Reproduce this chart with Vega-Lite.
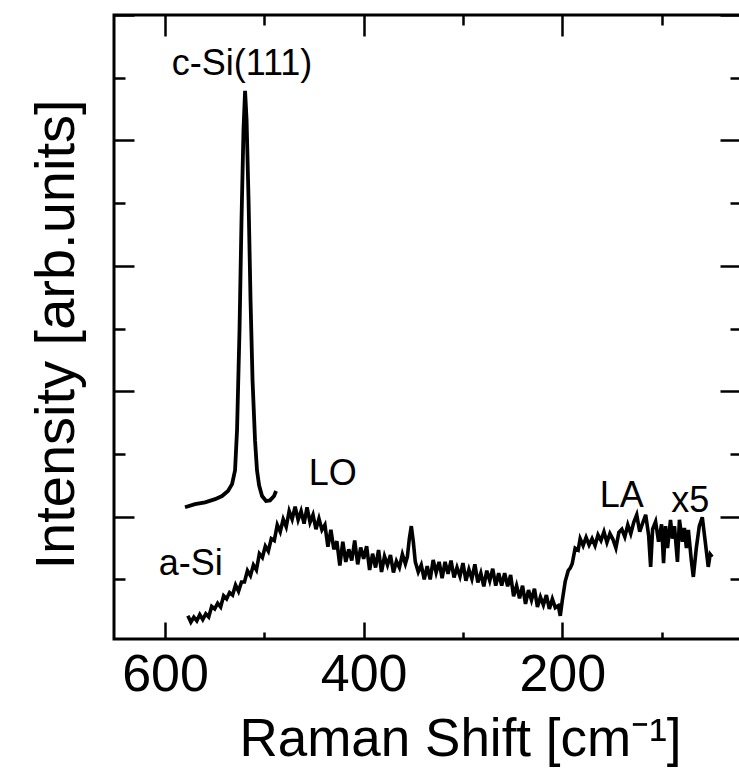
{
  "$schema": "https://vega.github.io/schema/vega-lite/v6.json",
  "width": 628,
  "height": 624,
  "autosize": {"type": "none"},
  "padding": {"left": 114, "top": 15, "right": 0, "bottom": 130},
  "background": "white",
  "config": {"view": {"stroke": "black", "strokeWidth": 3}, "font": "Liberation Sans"},
  "datasets": {
    "cSi": [
      {"shift": 579.9, "intensity": 215}, {"shift": 569.8, "intensity": 220}, {"shift": 559.7, "intensity": 223},
      {"shift": 549.6, "intensity": 228}, {"shift": 542.6, "intensity": 233}, {"shift": 536.6, "intensity": 241},
      {"shift": 532.5, "intensity": 252}, {"shift": 529.5, "intensity": 274}, {"shift": 527.5, "intensity": 338},
      {"shift": 525.0, "intensity": 498}, {"shift": 523.0, "intensity": 673}, {"shift": 521.0, "intensity": 817},
      {"shift": 519.4, "intensity": 879}, {"shift": 517.9, "intensity": 833}, {"shift": 515.9, "intensity": 705},
      {"shift": 513.9, "intensity": 545}, {"shift": 511.9, "intensity": 418}, {"shift": 509.4, "intensity": 322},
      {"shift": 507.4, "intensity": 274}, {"shift": 505.3, "intensity": 250}, {"shift": 502.3, "intensity": 233},
      {"shift": 498.3, "intensity": 225}, {"shift": 494.3, "intensity": 226}, {"shift": 490.2, "intensity": 233},
      {"shift": 488.2, "intensity": 241}
    ],
    "aSi": [
      {"shift": 577, "intensity": 42}, {"shift": 574, "intensity": 32}, {"shift": 571, "intensity": 40}, {"shift": 568, "intensity": 34},
      {"shift": 565, "intensity": 44}, {"shift": 562, "intensity": 36}, {"shift": 559, "intensity": 45}, {"shift": 556, "intensity": 40},
      {"shift": 553, "intensity": 57}, {"shift": 550, "intensity": 53}, {"shift": 547, "intensity": 62}, {"shift": 544, "intensity": 56},
      {"shift": 541, "intensity": 74}, {"shift": 538, "intensity": 69}, {"shift": 535, "intensity": 79}, {"shift": 532, "intensity": 75},
      {"shift": 529, "intensity": 91}, {"shift": 526, "intensity": 81}, {"shift": 523, "intensity": 96}, {"shift": 520, "intensity": 96},
      {"shift": 517, "intensity": 114}, {"shift": 514, "intensity": 106}, {"shift": 511, "intensity": 123}, {"shift": 508, "intensity": 115},
      {"shift": 505, "intensity": 141}, {"shift": 502, "intensity": 135}, {"shift": 499, "intensity": 153}, {"shift": 496, "intensity": 145},
      {"shift": 493, "intensity": 165}, {"shift": 490, "intensity": 162}, {"shift": 487, "intensity": 187}, {"shift": 484, "intensity": 176},
      {"shift": 481, "intensity": 196}, {"shift": 478, "intensity": 184}, {"shift": 475, "intensity": 209}, {"shift": 472, "intensity": 196},
      {"shift": 469, "intensity": 216}, {"shift": 466, "intensity": 195}, {"shift": 463, "intensity": 209}, {"shift": 460, "intensity": 189},
      {"shift": 457, "intensity": 215}, {"shift": 454, "intensity": 191}, {"shift": 451, "intensity": 203}, {"shift": 448, "intensity": 180},
      {"shift": 445, "intensity": 197}, {"shift": 442, "intensity": 179}, {"shift": 439, "intensity": 187}, {"shift": 436, "intensity": 152},
      {"shift": 433, "intensity": 179}, {"shift": 430, "intensity": 148}, {"shift": 427, "intensity": 161}, {"shift": 424, "intensity": 122},
      {"shift": 421, "intensity": 160}, {"shift": 418, "intensity": 128}, {"shift": 415, "intensity": 148}, {"shift": 412, "intensity": 130},
      {"shift": 409, "intensity": 162}, {"shift": 406, "intensity": 124}, {"shift": 403, "intensity": 151}, {"shift": 400, "intensity": 133},
      {"shift": 397, "intensity": 153}, {"shift": 394, "intensity": 115}, {"shift": 391, "intensity": 141}, {"shift": 388, "intensity": 119},
      {"shift": 385, "intensity": 147}, {"shift": 382, "intensity": 112}, {"shift": 379, "intensity": 137}, {"shift": 376, "intensity": 123},
      {"shift": 373, "intensity": 139}, {"shift": 370, "intensity": 111}, {"shift": 367, "intensity": 129}, {"shift": 364, "intensity": 119},
      {"shift": 361, "intensity": 140}, {"shift": 358, "intensity": 125}, {"shift": 356, "intensity": 136}, {"shift": 354, "intensity": 165},
      {"shift": 352, "intensity": 185}, {"shift": 350, "intensity": 160}, {"shift": 348, "intensity": 128}, {"shift": 345, "intensity": 112},
      {"shift": 342, "intensity": 123}, {"shift": 339, "intensity": 100}, {"shift": 336, "intensity": 121}, {"shift": 333, "intensity": 100},
      {"shift": 330, "intensity": 131}, {"shift": 327, "intensity": 111}, {"shift": 324, "intensity": 128}, {"shift": 321, "intensity": 102},
      {"shift": 318, "intensity": 128}, {"shift": 315, "intensity": 109}, {"shift": 312, "intensity": 130}, {"shift": 309, "intensity": 103},
      {"shift": 306, "intensity": 119}, {"shift": 303, "intensity": 105}, {"shift": 300, "intensity": 126}, {"shift": 297, "intensity": 98},
      {"shift": 294, "intensity": 116}, {"shift": 291, "intensity": 101}, {"shift": 288, "intensity": 124}, {"shift": 285, "intensity": 95},
      {"shift": 282, "intensity": 110}, {"shift": 279, "intensity": 89}, {"shift": 276, "intensity": 114}, {"shift": 273, "intensity": 98},
      {"shift": 270, "intensity": 117}, {"shift": 267, "intensity": 90}, {"shift": 264, "intensity": 110}, {"shift": 261, "intensity": 90},
      {"shift": 258, "intensity": 110}, {"shift": 255, "intensity": 89}, {"shift": 252, "intensity": 107}, {"shift": 249, "intensity": 73},
      {"shift": 246, "intensity": 90}, {"shift": 243, "intensity": 70}, {"shift": 240, "intensity": 90}, {"shift": 237, "intensity": 61},
      {"shift": 234, "intensity": 83}, {"shift": 231, "intensity": 67}, {"shift": 228, "intensity": 85}, {"shift": 225, "intensity": 56},
      {"shift": 222, "intensity": 72}, {"shift": 219, "intensity": 59}, {"shift": 216, "intensity": 75}, {"shift": 213, "intensity": 53},
      {"shift": 210, "intensity": 69}, {"shift": 207, "intensity": 55}, {"shift": 204, "intensity": 58}, {"shift": 202, "intensity": 42},
      {"shift": 200, "intensity": 66}, {"shift": 197, "intensity": 97}, {"shift": 194, "intensity": 114}, {"shift": 192, "intensity": 118},
      {"shift": 190, "intensity": 125}, {"shift": 187, "intensity": 150}, {"shift": 184, "intensity": 147}, {"shift": 182, "intensity": 165},
      {"shift": 179, "intensity": 154}, {"shift": 176, "intensity": 167}, {"shift": 173, "intensity": 155}, {"shift": 170, "intensity": 165},
      {"shift": 167, "intensity": 154}, {"shift": 164, "intensity": 171}, {"shift": 161, "intensity": 162}, {"shift": 158, "intensity": 176},
      {"shift": 155, "intensity": 159}, {"shift": 152, "intensity": 173}, {"shift": 149, "intensity": 164}, {"shift": 146, "intensity": 150},
      {"shift": 143, "intensity": 175}, {"shift": 140, "intensity": 180}, {"shift": 137, "intensity": 168}, {"shift": 134, "intensity": 187},
      {"shift": 131, "intensity": 173}, {"shift": 128, "intensity": 191}, {"shift": 125, "intensity": 203}, {"shift": 122, "intensity": 176},
      {"shift": 119, "intensity": 190}, {"shift": 116, "intensity": 203}, {"shift": 113, "intensity": 170}, {"shift": 111, "intensity": 120},
      {"shift": 109, "intensity": 180}, {"shift": 106, "intensity": 192}, {"shift": 103, "intensity": 160}, {"shift": 100, "intensity": 188},
      {"shift": 98, "intensity": 126}, {"shift": 96, "intensity": 185}, {"shift": 94, "intensity": 150}, {"shift": 91, "intensity": 195},
      {"shift": 89, "intensity": 165}, {"shift": 87, "intensity": 185}, {"shift": 84, "intensity": 128}, {"shift": 82, "intensity": 195},
      {"shift": 79, "intensity": 160}, {"shift": 77, "intensity": 182}, {"shift": 75, "intensity": 150}, {"shift": 73, "intensity": 179},
      {"shift": 70, "intensity": 130}, {"shift": 68, "intensity": 104}, {"shift": 65, "intensity": 150}, {"shift": 62, "intensity": 185},
      {"shift": 59, "intensity": 199}, {"shift": 56, "intensity": 160}, {"shift": 53, "intensity": 120}, {"shift": 51, "intensity": 140},
      {"shift": 49, "intensity": 136}
    ],
    "labels": [
      {"label": "c-Si(111)", "shift": 522.5, "intensity": 904},
      {"label": "LO", "shift": 431, "intensity": 250},
      {"label": "a-Si", "shift": 574, "intensity": 107},
      {"label": "LA", "shift": 140, "intensity": 215},
      {"label": "x5", "shift": 71, "intensity": 207}
    ]
  },
  "layer": [
    {
      "data": {"name": "cSi"},
      "mark": {"type": "line", "color": "black", "strokeWidth": 3.8},
      "encoding": {
        "x": {
          "field": "shift", "type": "quantitative",
          "scale": {"domain": [19, 651.4], "reverse": true, "nice": false, "zero": false},
          "axis": {
            "orient": "bottom", "offset": -17,
            "values": [600, 400, 200],
            "tickSize": 17, "tickWidth": 2.5, "tickColor": "black",
            "domain": false, "grid": false,
            "labelFont": "Liberation Sans", "labelFontSize": 52, "labelColor": "black",
            "labelBaseline": "alphabetic", "labelPadding": 51, "labelFlush": false, "labelOverlap": false,
            "title": "Raman Shift [cm⁻¹]",
            "titleFont": "Liberation Sans", "titleFontSize": 53, "titleFontWeight": "normal", "titleColor": "black",
            "titleX": 346, "titleY": 133, "titleAlign": "center", "titleBaseline": "alphabetic"
          }
        },
        "y": {
          "field": "intensity", "type": "quantitative",
          "scale": {"domain": [5, 1000], "nice": false, "zero": false},
          "axis": {
            "orient": "left", "offset": -20,
            "values": [200, 400, 600, 800, 1000],
            "labels": false,
            "tickSize": 20, "tickWidth": 2.5, "tickColor": "black",
            "domain": false, "grid": false,
            "title": "Intensity [arb.units]",
            "titleFont": "Liberation Sans", "titleFontSize": 56, "titleFontWeight": "normal", "titleColor": "black",
            "titleX": -61, "titleY": 319, "titleAngle": 270, "titleAlign": "center", "titleBaseline": "alphabetic"
          }
        }
      }
    },
    {
      "data": {"name": "aSi"},
      "mark": {"type": "line", "color": "black", "strokeWidth": 3.6},
      "encoding": {
        "x": {
          "field": "shift", "type": "quantitative",
          "scale": {"domain": [19, 651.4], "reverse": true, "nice": false, "zero": false},
          "axis": {
            "orient": "top", "offset": -21,
            "values": [600, 400, 200],
            "labels": false,
            "tickSize": 21, "tickWidth": 2.5, "tickColor": "black",
            "domain": false, "grid": false,
            "title": null
          }
        },
        "y": {
          "field": "intensity", "type": "quantitative",
          "scale": {"domain": [5, 1000], "nice": false, "zero": false},
          "axis": {
            "orient": "right", "offset": -22,
            "values": [200, 400, 600, 800, 1000],
            "labels": false,
            "tickSize": 22, "tickWidth": 2.5, "tickColor": "black",
            "domain": false, "grid": false,
            "title": null
          }
        }
      }
    },
    {
      "data": {"name": "labels"},
      "mark": {"type": "text", "font": "Liberation Sans", "fontSize": 36, "color": "black", "align": "center", "baseline": "alphabetic"},
      "encoding": {
        "x": {
          "field": "shift", "type": "quantitative",
          "scale": {"domain": [19, 651.4], "reverse": true, "nice": false, "zero": false},
          "axis": {
            "orient": "bottom", "offset": -7,
            "values": [500, 300, 100],
            "labels": false,
            "tickSize": 7, "tickWidth": 2.5, "tickColor": "black",
            "domain": false, "grid": false,
            "title": null
          }
        },
        "y": {
          "field": "intensity", "type": "quantitative",
          "scale": {"domain": [5, 1000], "nice": false, "zero": false},
          "axis": {
            "orient": "left", "offset": -11,
            "values": [100, 300, 500, 700, 900],
            "labels": false,
            "tickSize": 11, "tickWidth": 2.5, "tickColor": "black",
            "domain": false, "grid": false,
            "title": null
          }
        },
        "text": {"field": "label", "type": "nominal"}
      }
    },
    {
      "data": {"name": "labels"},
      "mark": {"type": "point", "opacity": 0},
      "encoding": {
        "x": {
          "field": "shift", "type": "quantitative",
          "scale": {"domain": [19, 651.4], "reverse": true, "nice": false, "zero": false},
          "axis": {
            "orient": "top", "offset": -10,
            "values": [500, 300, 100],
            "labels": false,
            "tickSize": 10, "tickWidth": 2.5, "tickColor": "black",
            "domain": false, "grid": false,
            "title": null
          }
        },
        "y": {
          "field": "intensity", "type": "quantitative",
          "scale": {"domain": [5, 1000], "nice": false, "zero": false},
          "axis": {
            "orient": "right", "offset": -12,
            "values": [100, 300, 500, 700, 900],
            "labels": false,
            "tickSize": 12, "tickWidth": 2.5, "tickColor": "black",
            "domain": false, "grid": false,
            "title": null
          }
        }
      }
    }
  ],
  "resolve": {"axis": {"x": "independent", "y": "independent"}}
}
